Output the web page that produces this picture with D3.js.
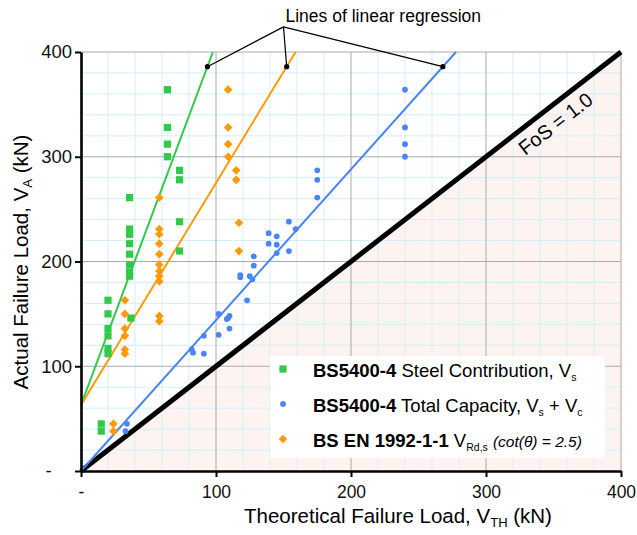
<!DOCTYPE html>
<html>
<head>
<meta charset="utf-8">
<script src="https://cdn.jsdelivr.net/npm/d3@7"></script>
<style>
  body { margin: 0; background: #fff; }
  svg { display: block; font-family: "Liberation Sans", Arial, sans-serif; }
</style>
</head>
<body>
<svg></svg>
<script>

// values, all in kN
var steelX = [15, 15, 20, 20, 20, 20, 20, 20, 36, 36, 36, 36, 36, 36, 36, 36, 37, 64, 64, 64, 64, 73, 73, 73, 73]
var steelY = [45, 38, 163, 150, 136, 129, 117, 112, 261, 231, 226, 217, 207, 197, 190, 186, 146, 364, 328, 312, 300, 287, 278, 238, 210]

var totalX = [34, 33, 240, 240, 240, 240, 175, 175, 175, 154, 159, 139, 145, 139, 145, 154, 145,
              128, 128, 118, 118, 125, 127, 123, 102, 110, 108, 109, 110, 102, 91, 82, 83, 91]
var totalY = [45, 38, 364, 328, 312, 300, 287, 278, 261, 238, 231, 227, 224, 217, 216, 210, 208,
              205, 196, 187, 185, 186, 183, 163, 150, 148, 145, 146, 136, 130, 129, 116, 113, 112]

var ecX = [24, 24, 32.5, 32.5, 32.5, 32.5, 32.5, 32.5, 58, 58, 58, 58, 58, 58, 58, 58, 58, 58, 58, 109, 109, 109, 109, 115, 115, 117, 117]
var ecY = [45, 38, 163, 150, 136, 129, 116, 112, 261, 231, 226, 217, 207, 197, 191, 186, 181, 148, 143, 364, 328, 312, 300, 287, 278, 237, 210]

// linear regression lines  y = a + b x   (steel, total, EC2)
var fitNames = ["steel", "total", "ec"]
var fitA = [63, 0, 63]
var fitB = [3.45, 1.44, 2.12]

var axisTicks = [0, 100, 200, 300, 400]

var colors = {steel: "#31c94a", total: "#4b85f3", ec: "#ff9a05"}

var margin = {top: 52, right: 16, bottom: 64, left: 81}
var width = 637, height = 535

var svg = d3.select("svg")
            .attr("width", width)
            .attr("height", height)

var x = d3.scaleLinear().domain([0, 400]).range([margin.left, width - margin.right])
var y = d3.scaleLinear().domain([0, 400]).range([height - margin.bottom, margin.top])

// unsafe zone below FoS = 1
svg.append("path")
   .attr("d", d3.line()([[x(0), y(0)], [x(400), y(0)], [x(400), y(400)]]))
   .attr("fill", "#fdf4f1")

// grid
var minor = d3.range(20, 401, 20).filter(d => d % 100 != 0)
var major = [100, 200, 300, 400]

svg.append("g").selectAll("line").data(minor).join("line")
   .attr("x1", d => x(d)).attr("x2", d => x(d))
   .attr("y1", y(0)).attr("y2", y(400))
   .attr("stroke", "#d3eef9")
svg.append("g").selectAll("line").data(minor).join("line")
   .attr("y1", d => y(d)).attr("y2", d => y(d))
   .attr("x1", x(0)).attr("x2", x(400))
   .attr("stroke", "#d3eef9")
svg.append("g").selectAll("line").data(major).join("line")
   .attr("x1", d => x(d)).attr("x2", d => x(d))
   .attr("y1", y(0)).attr("y2", y(400))
   .attr("stroke", "#a7abab")
svg.append("g").selectAll("line").data(major).join("line")
   .attr("y1", d => y(d)).attr("y2", d => y(d))
   .attr("x1", x(0)).attr("x2", x(400))
   .attr("stroke", "#a7abab")

// FoS = 1.0 line
svg.append("line")
   .attr("x1", x(0)).attr("y1", y(0))
   .attr("x2", x(400)).attr("y2", y(400))
   .attr("stroke", "#000").attr("stroke-width", 5)

var ang = Math.atan2(y(0) - y(400), x(400) - x(0)) * 180 / Math.PI
svg.append("text")
   .attr("transform", `translate(${x(344) + 10},${y(344) + 13}) rotate(${-ang})`)
   .attr("text-anchor", "middle")
   .attr("dy", "0.35em")
   .attr("font-size", 20)
   .text("FoS = 1.0")

// regression lines, from x = 0 up to the top of the plot
fitNames.forEach((k, i) => {
  var xEnd = Math.min(400, (400 - fitA[i]) / fitB[i])
  svg.append("line")
     .attr("x1", x(0)).attr("y1", y(fitA[i]))
     .attr("x2", x(xEnd)).attr("y2", y(fitA[i] + fitB[i] * xEnd))
     .attr("stroke", colors[k]).attr("stroke-width", 2)
})

// points
var square = d3.symbol(d3.symbolSquare, 52)
var diamond = d3.symbol(d3.symbolSquare, 38)
var circle = d3.symbol(d3.symbolCircle, 26)

svg.append("g").selectAll("path").data(steelX).join("path")
   .attr("d", square)
   .attr("transform", (d, i) => `translate(${x(d)},${y(steelY[i])})`)
   .attr("fill", colors.steel)
svg.append("g").selectAll("path").data(ecX).join("path")
   .attr("d", diamond)
   .attr("transform", (d, i) => `translate(${x(d)},${y(ecY[i])}) rotate(45)`)
   .attr("fill", colors.ec)
svg.append("g").selectAll("path").data(totalX).join("path")
   .attr("d", circle)
   .attr("transform", (d, i) => `translate(${x(d)},${y(totalY[i])})`)
   .attr("fill", colors.total)

// annotation pointing at the three lines
var annY = 386
var apex = [x(150), y(424)]
var ann = svg.append("g")
fitNames.forEach((k, i) => {
  var px = x((annY - fitA[i]) / fitB[i]), py = y(annY)
  ann.append("line")
     .attr("x1", apex[0]).attr("y1", apex[1])
     .attr("x2", px).attr("y2", py)
     .attr("stroke", "#000").attr("stroke-width", 1.2)
  ann.append("circle").attr("cx", px).attr("cy", py).attr("r", 2.6)
})
ann.append("text")
   .attr("x", apex[0] + 2).attr("y", 22)
   .attr("font-size", 17.5)
   .text("Lines of linear regression")

// axes
var fmt = d => d == 0 ? "-" : d

var xAxis = svg.append("g")
   .attr("transform", `translate(0,${y(0)})`)
   .call(d3.axisBottom(x).tickValues(axisTicks).tickFormat(fmt).tickSize(6).tickSizeOuter(0).tickPadding(9))
var yAxis = svg.append("g")
   .attr("transform", `translate(${x(0)},0)`)
   .call(d3.axisLeft(y).tickValues(axisTicks).tickFormat(fmt).tickSize(6).tickSizeOuter(0))

;[xAxis, yAxis].forEach(g => {
  g.select(".domain").attr("stroke-width", 2.6)
  g.selectAll(".tick line").attr("stroke-width", 2)
  g.selectAll("text").attr("font-size", 17.5).attr("font-family", null).attr("fill", "#111")
})
yAxis.selectAll(".tick text").attr("font-size", 18.5)
yAxis.selectAll(".tick text").filter(d => d == 0).attr("dx", "-1.1em")

// axis titles
var xt = svg.append("text")
   .attr("x", 398).attr("y", 523)
   .attr("text-anchor", "middle")
   .attr("font-size", 20.5)
xt.append("tspan").text("Theoretical Failure Load, V")
xt.append("tspan").attr("font-size", 13).attr("dy", 4).text("TH")
xt.append("tspan").attr("dy", -4).text(" (kN)")

var yt = svg.append("text")
   .attr("transform", "translate(28,262) rotate(-90)")
   .attr("text-anchor", "middle")
   .attr("font-size", 20.5)
yt.append("tspan").text("Actual Failure Load, V")
yt.append("tspan").attr("font-size", 13).attr("dy", 4).text("A")
yt.append("tspan").attr("dy", -4).text(" (kN)")

// legend
var legend = svg.append("g")
legend.append("rect")
      .attr("x", 270).attr("y", 356)
      .attr("width", 335).attr("height", 102)
      .attr("fill", "#fff")

var rows = [
  {key: "steel", sym: square, rot: 0, parts: [["b", "BS5400-4"], ["n", " Steel Contribution, V"], ["s", "s"]]},
  {key: "total", sym: circle, rot: 0, parts: [["b", "BS5400-4"], ["n", " Total Capacity, V"], ["s", "s"], ["n", " + V"], ["s", "c"]]},
  {key: "ec", sym: diamond, rot: 45, parts: [["b", "BS EN 1992-1-1"], ["n", " V"], ["s", "Rd,s"], ["n", " "], ["i", "(cot(θ) = 2.5)"]]}
]

rows.forEach((r, i) => {
  var cy = 369 + i * 35
  legend.append("path")
        .attr("d", r.sym)
        .attr("transform", `translate(283,${cy}) rotate(${r.rot})`)
        .attr("fill", colors[r.key])
  var t = legend.append("text")
        .attr("x", 313).attr("y", cy + 8)
        .attr("font-size", 18.5)
  var low = false
  r.parts.forEach(p => {
    var s = t.append("tspan").text(p[1])
    if (p[0] == "b") s.attr("font-weight", "bold")
    if (p[0] == "s") { s.attr("font-size", 10.5).attr("dy", 4); low = true }
    else if (low) { s.attr("dy", -4); low = false }
    if (p[0] == "i") s.attr("font-style", "italic").attr("font-size", 15.5)
  })
})

</script>
</body>
</html>
